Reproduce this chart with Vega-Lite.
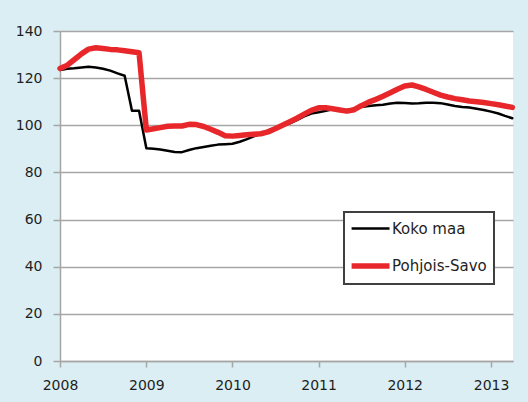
{
  "$schema": "https://vega.github.io/schema/vega-lite/v6.json",
  "width": 453,
  "height": 330,
  "autosize": {"type": "none"},
  "padding": {"left": 60, "top": 31, "right": 15, "bottom": 41},
  "background": "#DBEEF3",
  "config": {"view": {"fill": "white", "stroke": null}, "font": "DejaVu Sans"},
  "data": {"values": [
    {"d": "2008-01-01", "Koko maa": 123.5, "Pohjois-Savo": 124.1},
    {"d": "2008-02-01", "Koko maa": 124.0, "Pohjois-Savo": 125.5},
    {"d": "2008-03-01", "Koko maa": 124.2, "Pohjois-Savo": 127.8},
    {"d": "2008-04-01", "Koko maa": 124.5, "Pohjois-Savo": 130.3},
    {"d": "2008-05-01", "Koko maa": 124.8, "Pohjois-Savo": 132.3},
    {"d": "2008-06-01", "Koko maa": 124.5, "Pohjois-Savo": 132.9},
    {"d": "2008-07-01", "Koko maa": 124.0, "Pohjois-Savo": 132.6},
    {"d": "2008-08-01", "Koko maa": 123.2, "Pohjois-Savo": 132.2},
    {"d": "2008-09-01", "Koko maa": 122.0, "Pohjois-Savo": 132.0},
    {"d": "2008-10-01", "Koko maa": 121.0, "Pohjois-Savo": 131.6},
    {"d": "2008-11-01", "Koko maa": 106.2, "Pohjois-Savo": 131.2},
    {"d": "2008-12-01", "Koko maa": 106.2, "Pohjois-Savo": 130.8},
    {"d": "2009-01-01", "Koko maa": 90.3, "Pohjois-Savo": 98.0},
    {"d": "2009-02-01", "Koko maa": 90.0, "Pohjois-Savo": 98.5},
    {"d": "2009-03-01", "Koko maa": 89.7, "Pohjois-Savo": 99.0},
    {"d": "2009-04-01", "Koko maa": 89.2, "Pohjois-Savo": 99.6},
    {"d": "2009-05-01", "Koko maa": 88.7, "Pohjois-Savo": 99.7},
    {"d": "2009-06-01", "Koko maa": 88.6, "Pohjois-Savo": 99.7},
    {"d": "2009-07-01", "Koko maa": 89.5, "Pohjois-Savo": 100.4},
    {"d": "2009-08-01", "Koko maa": 90.3, "Pohjois-Savo": 100.3},
    {"d": "2009-09-01", "Koko maa": 90.8, "Pohjois-Savo": 99.5},
    {"d": "2009-10-01", "Koko maa": 91.3, "Pohjois-Savo": 98.3},
    {"d": "2009-11-01", "Koko maa": 91.8, "Pohjois-Savo": 97.0},
    {"d": "2009-12-01", "Koko maa": 92.0, "Pohjois-Savo": 95.6},
    {"d": "2010-01-01", "Koko maa": 92.2, "Pohjois-Savo": 95.4},
    {"d": "2010-02-01", "Koko maa": 93.0, "Pohjois-Savo": 95.7},
    {"d": "2010-03-01", "Koko maa": 94.0, "Pohjois-Savo": 96.0},
    {"d": "2010-04-01", "Koko maa": 95.3, "Pohjois-Savo": 96.2},
    {"d": "2010-05-01", "Koko maa": 96.3, "Pohjois-Savo": 96.4},
    {"d": "2010-06-01", "Koko maa": 97.8, "Pohjois-Savo": 97.2},
    {"d": "2010-07-01", "Koko maa": 99.0, "Pohjois-Savo": 98.5},
    {"d": "2010-08-01", "Koko maa": 100.0, "Pohjois-Savo": 100.0},
    {"d": "2010-09-01", "Koko maa": 100.8, "Pohjois-Savo": 101.5},
    {"d": "2010-10-01", "Koko maa": 102.2, "Pohjois-Savo": 103.0},
    {"d": "2010-11-01", "Koko maa": 103.8, "Pohjois-Savo": 104.7},
    {"d": "2010-12-01", "Koko maa": 105.0, "Pohjois-Savo": 106.3},
    {"d": "2011-01-01", "Koko maa": 105.5, "Pohjois-Savo": 107.4},
    {"d": "2011-02-01", "Koko maa": 106.2, "Pohjois-Savo": 107.4},
    {"d": "2011-03-01", "Koko maa": 106.8, "Pohjois-Savo": 107.0},
    {"d": "2011-04-01", "Koko maa": 106.7, "Pohjois-Savo": 106.5},
    {"d": "2011-05-01", "Koko maa": 106.5, "Pohjois-Savo": 106.0},
    {"d": "2011-06-01", "Koko maa": 107.0, "Pohjois-Savo": 106.6},
    {"d": "2011-07-01", "Koko maa": 107.8, "Pohjois-Savo": 108.3},
    {"d": "2011-08-01", "Koko maa": 108.2, "Pohjois-Savo": 109.8},
    {"d": "2011-09-01", "Koko maa": 108.5, "Pohjois-Savo": 111.0},
    {"d": "2011-10-01", "Koko maa": 108.7, "Pohjois-Savo": 112.3},
    {"d": "2011-11-01", "Koko maa": 109.2, "Pohjois-Savo": 113.8},
    {"d": "2011-12-01", "Koko maa": 109.6, "Pohjois-Savo": 115.3},
    {"d": "2012-01-01", "Koko maa": 109.5, "Pohjois-Savo": 116.7},
    {"d": "2012-02-01", "Koko maa": 109.2, "Pohjois-Savo": 117.1},
    {"d": "2012-03-01", "Koko maa": 109.3, "Pohjois-Savo": 116.3},
    {"d": "2012-04-01", "Koko maa": 109.6, "Pohjois-Savo": 115.2},
    {"d": "2012-05-01", "Koko maa": 109.6, "Pohjois-Savo": 114.0},
    {"d": "2012-06-01", "Koko maa": 109.4, "Pohjois-Savo": 112.8},
    {"d": "2012-07-01", "Koko maa": 108.8, "Pohjois-Savo": 112.0},
    {"d": "2012-08-01", "Koko maa": 108.2, "Pohjois-Savo": 111.3},
    {"d": "2012-09-01", "Koko maa": 107.8, "Pohjois-Savo": 110.8},
    {"d": "2012-10-01", "Koko maa": 107.5, "Pohjois-Savo": 110.3},
    {"d": "2012-11-01", "Koko maa": 107.0, "Pohjois-Savo": 110.0},
    {"d": "2012-12-01", "Koko maa": 106.5, "Pohjois-Savo": 109.7},
    {"d": "2013-01-01", "Koko maa": 105.8, "Pohjois-Savo": 109.2},
    {"d": "2013-02-01", "Koko maa": 105.0, "Pohjois-Savo": 108.7},
    {"d": "2013-03-01", "Koko maa": 104.0, "Pohjois-Savo": 108.2},
    {"d": "2013-04-01", "Koko maa": 103.0, "Pohjois-Savo": 107.6}
  ]},
  "transform": [{"fold": ["Koko maa", "Pohjois-Savo"], "as": ["series", "value"]}],
  "mark": {"type": "line", "strokeJoin": "round", "strokeCap": "round"},
  "encoding": {
    "x": {
      "field": "d", "type": "temporal",
      "scale": {"type": "utc", "domain": [{"year": 2008, "month": 1, "date": 1, "utc": true}, {"year": 2013, "month": 4, "date": 4, "utc": true}]},
      "axis": {
        "title": null, "grid": false,
        "values": [
          {"year": 2008, "month": 1, "date": 1, "utc": true},
          {"year": 2009, "month": 1, "date": 1, "utc": true},
          {"year": 2010, "month": 1, "date": 1, "utc": true},
          {"year": 2011, "month": 1, "date": 1, "utc": true},
          {"year": 2012, "month": 1, "date": 1, "utc": true},
          {"year": 2013, "month": 1, "date": 1, "utc": true}
        ],
        "format": "%Y", "formatType": "utc",
        "domainColor": "#A6A6A6", "domainWidth": 1.5,
        "tickColor": "#A6A6A6", "tickWidth": 1.5, "tickSize": 6,
        "labelFontSize": 14, "labelColor": "#1E1E1E", "labelPadding": 11,
        "labelFlush": false
      }
    },
    "y": {
      "field": "value", "type": "quantitative",
      "scale": {"domain": [0, 140], "nice": false},
      "axis": {
        "title": null, "values": [0, 20, 40, 60, 80, 100, 120, 140],
        "grid": true, "gridColor": "#A6A6A6", "gridWidth": 1.5,
        "domainColor": "#A6A6A6", "domainWidth": 1.5,
        "tickColor": "#A6A6A6", "tickWidth": 1.5, "tickSize": 7,
        "labelFontSize": 14, "labelColor": "#1E1E1E", "labelPadding": 11
      }
    },
    "color": {
      "field": "series", "type": "nominal",
      "scale": {"domain": ["Koko maa", "Pohjois-Savo"], "range": ["#000000", "#E8272B"]},
      "legend": {
        "title": null, "orient": "none", "legendX": 284, "legendY": 181,
        "fillColor": "white", "strokeColor": "#404040", "padding": 7,
        "symbolType": "M-1.3,0H3.44", "symbolSize": 256,
        "labelFontSize": 15, "labelColor": "#1E1E1E", "labelOffset": 19, "rowPadding": 18,
        "encode": {"legend": {"update": {"strokeWidth": {"value": 2}}}}
      }
    },
    "strokeWidth": {
      "field": "series", "type": "nominal",
      "scale": {"domain": ["Koko maa", "Pohjois-Savo"], "range": [2.5, 5.5]},
      "legend": {
        "title": null, "orient": "none", "legendX": 284, "legendY": 181,
        "fillColor": "white", "strokeColor": "#404040", "padding": 7,
        "symbolType": "M-1.3,0H3.44", "symbolSize": 256,
        "labelFontSize": 15, "labelColor": "#1E1E1E", "labelOffset": 19, "rowPadding": 18
      }
    }
  }
}
